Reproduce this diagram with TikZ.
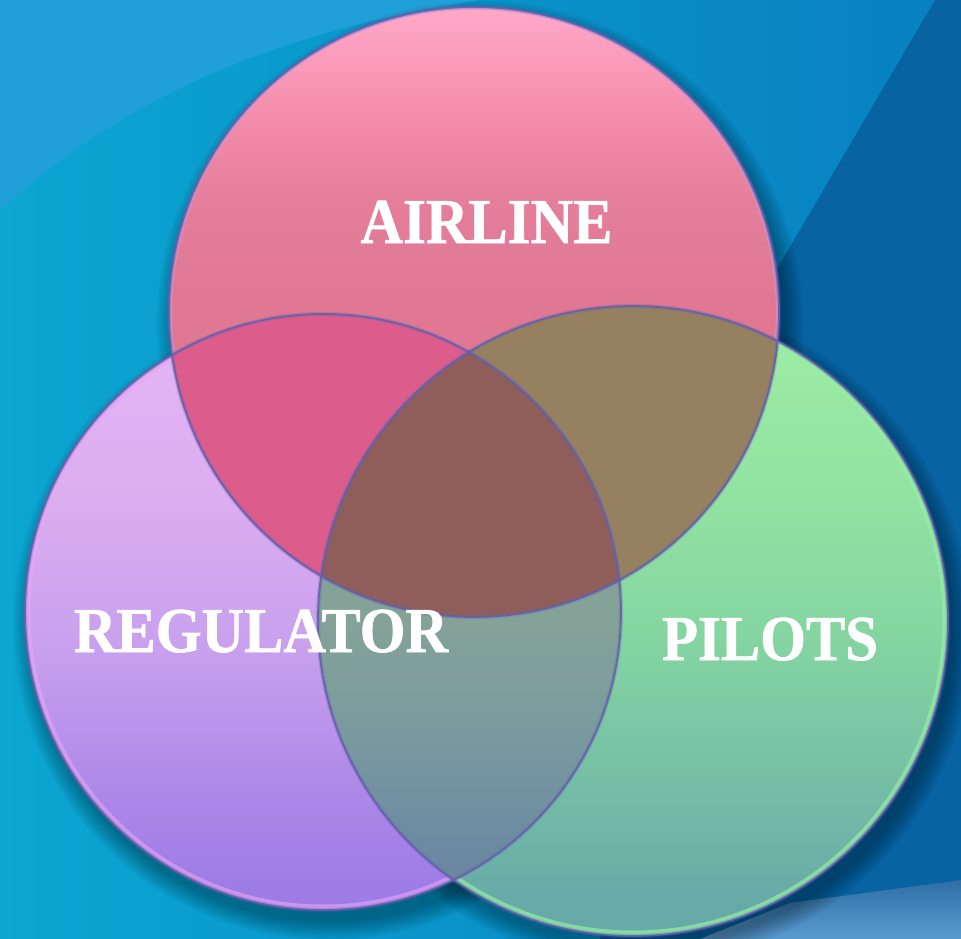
\documentclass[tikz,border=0pt]{standalone}
\usepackage{fontspec}
\newfontfamily\lblfont[FakeStretch=0.92, BoldFont={* Bold}, BoldFeatures={FakeBold=1}]{Liberation Serif}
\definecolor{bgL}{HTML}{0BA6D2}
\definecolor{bgR}{HTML}{0880C0}
\definecolor{bgTop}{HTML}{20A0D8}
\definecolor{bgDark}{HTML}{0763A2}
\definecolor{bandA}{HTML}{2E6EA4}
\definecolor{bandB}{HTML}{5A9CD0}
\definecolor{airA}{HTML}{E07894}
\definecolor{airB}{HTML}{E47E9A}
\definecolor{airC}{HTML}{F48CAB}
\definecolor{airD}{HTML}{FC9CBC}
\definecolor{airE}{HTML}{FFA8C8}
\definecolor{regA}{HTML}{9E7CE6}
\definecolor{regB}{HTML}{AE88E8}
\definecolor{regC}{HTML}{C8A0EE}
\definecolor{regD}{HTML}{DCAEF0}
\definecolor{regE}{HTML}{E4B6F4}
\definecolor{pilA}{HTML}{68AAA8}
\definecolor{pilB}{HTML}{74BCA6}
\definecolor{pilC}{HTML}{84D4A2}
\definecolor{pilD}{HTML}{92E2A2}
\definecolor{pilE}{HTML}{9EEEA6}
\definecolor{rpA}{HTML}{6A88A2}
\definecolor{rpB}{HTML}{7A9AA0}
\definecolor{rpC}{HTML}{84A298}
\definecolor{arCol}{HTML}{DC5C8B}
\definecolor{apCol}{HTML}{958160}
\definecolor{triCol}{HTML}{8F5E5A}
\definecolor{edgeCol}{HTML}{6460AC}
\definecolor{hiA}{HTML}{D8A0E0}
\definecolor{hiR}{HTML}{E8A6F6}
\definecolor{hiP}{HTML}{94F0A2}
\pgfdeclareverticalshading{airsh}{100bp}{color(0bp)=(airA); color(51bp)=(airA); color(59bp)=(airB); color(66bp)=(airC); color(71bp)=(airD); color(75bp)=(airE); color(100bp)=(airE)}
\pgfdeclareverticalshading{regsh}{100bp}{color(0bp)=(regA); color(27bp)=(regA); color(35bp)=(regB); color(47bp)=(regC); color(60bp)=(regD); color(75bp)=(regE); color(100bp)=(regE)}
\pgfdeclareverticalshading{pilsh}{100bp}{color(0bp)=(pilA); color(28bp)=(pilA); color(36bp)=(pilB); color(48bp)=(pilC); color(60bp)=(pilD); color(75bp)=(pilE); color(100bp)=(pilE)}
\pgfdeclareverticalshading{rpsh}{100bp}{color(0bp)=(rpA); color(29bp)=(rpA); color(40bp)=(rpB); color(49bp)=(rpC); color(100bp)=(rpC)}
\tikzset{
  lbl/.style={text=white, anchor=base, inner sep=0pt, font=\lblfont\bfseries\fontsize{64}{64}\selectfont},
  rimglow/.style={draw=edgeCol, line width=4.5pt, opacity=0.25},
  rimline/.style={draw=edgeCol, line width=1.8pt, opacity=0.9},
  shadowring/.style={fill=black, opacity=0.035}
}
\begin{document}
\begin{tikzpicture}[x=1pt,y=-1pt]
\useasboundingbox (0,0) rectangle (961,939);
% background
\shade[left color=bgL, right color=bgR] (0,0) rectangle (961,939);
\fill[bgTop] (0,0) -- (0,210) .. controls (90,130) and (220,40) .. (480,0) -- cycle;
\fill[bgDark] (935,0) -- (961,0) -- (961,939) -- (600,939) -- (700,400) -- cycle;
\shade[top color=bandA, bottom color=bandB] (700,939) -- (790,903) -- (961,880) -- (961,939) -- cycle;
% centres
\coordinate (cA) at (474,312);
\coordinate (cR) at (323,612);
\coordinate (cP) at (633,621);
% soft shadows
\foreach \k in {1,...,10}{
  \fill[shadowring] ([shift={(6,12)}]cA) circle[radius=303+2*\k];
  \fill[shadowring] ([shift={(6,12)}]cR) circle[radius=296+2*\k];
  \fill[shadowring] ([shift={(6,12)}]cP) circle[radius=313+2*\k];
}
% circles
\shade[shading=regsh] (cR) circle[radius=298];
\shade[shading=pilsh] (cP) circle[radius=315];
\shade[shading=airsh] (cA) circle[radius=305];
% rim highlights (overlaps drawn over them afterwards)
\begin{scope}
  \clip (cR) circle[radius=298];
  \draw[hiR, line width=5pt, opacity=0.6] (cR) circle[radius=295];
\end{scope}
\begin{scope}
  \clip (cP) circle[radius=315];
  \draw[hiP, line width=5pt, opacity=0.7] (cP) circle[radius=312];
\end{scope}
\begin{scope}
  \clip (cA) circle[radius=305];
  \draw[hiA, line width=3pt, opacity=0.6] (cA) circle[radius=303.5];
\end{scope}
% pairwise overlaps
\begin{scope}
  \clip (cA) circle[radius=305];
  \fill[arCol] (cR) circle[radius=298];
  \fill[apCol] (cP) circle[radius=315];
\end{scope}
\begin{scope}
  \clip (cP) circle[radius=315];
  \shade[shading=rpsh] (cR) circle[radius=298];
\end{scope}
% triple overlap
\begin{scope}
  \clip (cA) circle[radius=305];
  \clip (cR) circle[radius=298];
  \fill[triCol] (cP) circle[radius=315];
\end{scope}
% outlines
\draw[rimglow] (cR) circle[radius=298];
\draw[rimglow] (cP) circle[radius=315];
\draw[rimglow] (cA) circle[radius=305];
\draw[rimline] (cR) circle[radius=298];
\draw[rimline] (cP) circle[radius=315];
\draw[rimline] (cA) circle[radius=305];
% labels
\node[lbl] (airline) at (486.5,243) {AIRLINE};
\node[lbl] (regulator) at (261,652) {REGULATOR};
\node[lbl] (pilots) at (770,660) {PILOTS};
\end{tikzpicture}
\end{document}
